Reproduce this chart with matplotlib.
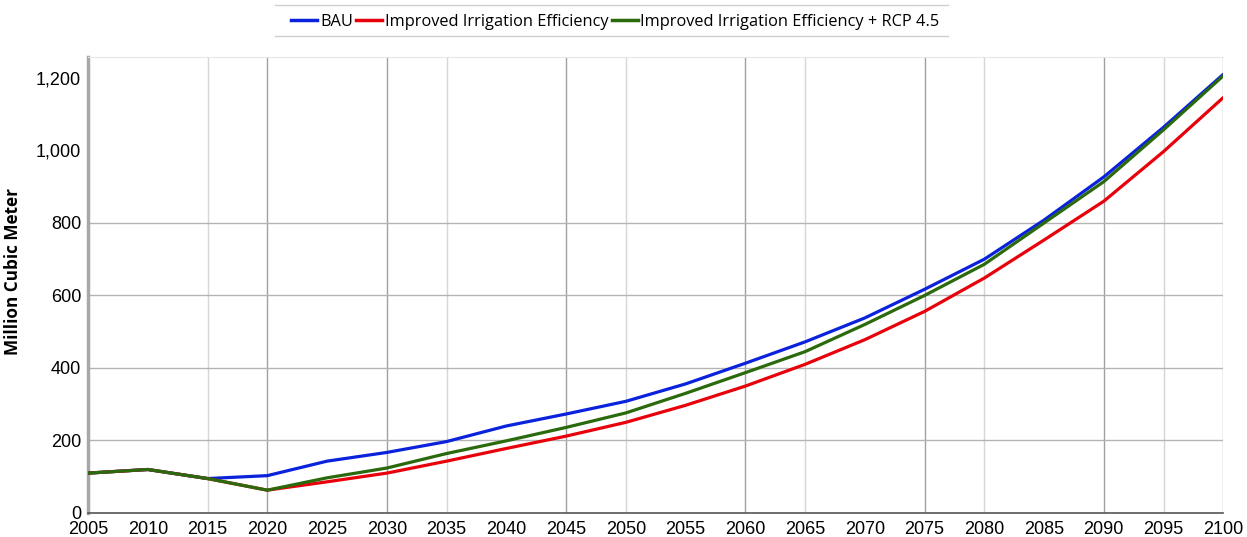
import matplotlib
matplotlib.use("Agg")
import matplotlib.pyplot as plt
from matplotlib.lines import Line2D

years = [2005, 2010, 2015, 2020, 2025, 2030, 2035, 2040, 2045, 2050,
         2055, 2060, 2065, 2070, 2075, 2080, 2085, 2090, 2095, 2100]
bau = [110, 120, 95, 103, 143, 167, 197, 240, 273, 308,
       356, 413, 472, 538, 617, 700, 808, 927, 1064, 1210]
iie = [110, 120, 95, 63, 86, 110, 143, 178, 212, 250,
       297, 350, 410, 478, 556, 648, 753, 860, 997, 1146]
iie_rcp = [110, 120, 95, 63, 97, 124, 164, 199, 236, 276,
           330, 387, 445, 520, 600, 686, 800, 914, 1057, 1206]
series_names = ["BAU", "Improved Irrigation Efficiency",
                "Improved Irrigation Efficiency + RCP 4.5"]
y_ticks = [0, 200, 400, 600, 800, 1000, 1200]
y_grid = [200, 400, 600, 800]
x_grid_dark = [2020, 2030, 2045, 2060, 2075, 2090]
x_grid_light = [2015, 2035, 2050, 2065, 2080, 2095]

fig = plt.figure(figsize=(12.47, 5.37), dpi=100)
ax = fig.add_axes([0.0706, 0.0447, 0.9104, 0.8493])
ax.set_xlim(2005, 2100)
ax.set_ylim(0, 1258)

for x in x_grid_dark:
    ax.axvline(x, color="#a0a0a0", lw=1.0, zorder=1)
for x in x_grid_light:
    ax.axvline(x, color="#d6d6d6", lw=1.0, zorder=1)
for y in y_grid:
    ax.axhline(y, color="#b4b4b4", lw=1.0, zorder=1)

colors = ["#0a22dc", "#e8000a", "#2a6a0c"]
for vals, c in zip([bau, iie, iie_rcp], colors):
    ax.plot(years, vals, color=c, lw=2.3, zorder=3, solid_capstyle="round")

ax.set_xticks(years)
ax.set_xticklabels([str(y) for y in years], family="Liberation Sans", fontsize=13)
ax.set_yticks(y_ticks)
ax.set_yticklabels([f"{v:,}" for v in y_ticks], family="Liberation Sans", fontsize=13)
ax.tick_params(axis="x", length=0, pad=6)
ax.tick_params(axis="y", length=0, pad=5)

ax.spines["right"].set_visible(False)
ax.spines["top"].set_color("#e6e6e6")
ax.spines["left"].set_color("#a8a8a8")
ax.spines["left"].set_linewidth(2.5)
ax.spines["bottom"].set_color("#555555")
ax.spines["bottom"].set_linewidth(1.2)
ax.axvline(2100, color="#b0b0b0", lw=1.0, zorder=1)

ax.set_ylabel("Million Cubic Meter", family="Open Sans", fontweight="bold",
              fontsize=12.3)
ax.yaxis.set_label_coords(-0.0585, 0.53)

handles = [Line2D([0], [0], color=c, lw=2.5) for c in colors]
leg = fig.legend(handles, series_names, loc="upper center",
                 bbox_to_anchor=(0.4935, 1.002), ncol=3, frameon=False,
                 prop={"family": "Open Sans", "size": 11.8},
                 handlelength=1.6, handletextpad=0.15, columnspacing=0.2)

# rules above and below legend
fig.add_artist(Line2D([275 / 1247, 948 / 1247], [1 - 5 / 537, 1 - 5 / 537],
                      color="#d0d0d0", lw=1.0, transform=fig.transFigure))
fig.add_artist(Line2D([275 / 1247, 948 / 1247], [1 - 36 / 537, 1 - 36 / 537],
                      color="#d0d0d0", lw=1.0, transform=fig.transFigure))

fig.savefig("out.png", dpi=100)
